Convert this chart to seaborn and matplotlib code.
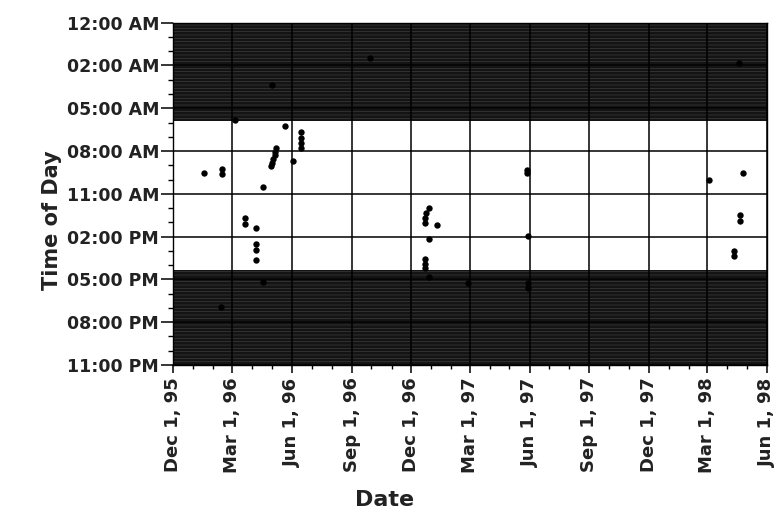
import pandas as pd
import matplotlib
matplotlib.use("Agg")
import matplotlib.pyplot as plt
import matplotlib.dates as mdates
from matplotlib.ticker import FixedLocator, FuncFormatter, MultipleLocator
import seaborn as sns

obs_dates = [
    "1996-01-18",
    "1996-02-15", "1996-02-15",
    "1996-02-12",
    "1996-03-05",
    "1996-03-21", "1996-03-21",
    "1996-04-06", "1996-04-06", "1996-04-06", "1996-04-06",
    "1996-04-18", "1996-04-18",
    "1996-05-01",
    "1996-05-07", "1996-05-06", "1996-05-05", "1996-05-03", "1996-05-01", "1996-04-30",
    "1996-05-21",
    "1996-06-03",
    "1996-06-14", "1996-06-14", "1996-06-14", "1996-06-14",
    "1996-09-29",
    "1996-12-28", "1996-12-28", "1996-12-28",
    "1996-12-24",
    "1996-12-23", "1996-12-23", "1996-12-23", "1996-12-23", "1996-12-23",
    "1997-01-10",
    "1997-02-26",
    "1997-05-28", "1997-05-28",
    "1997-05-29", "1997-05-29", "1997-05-29",
    "1998-03-04",
    "1998-04-25",
    "1998-04-21", "1998-04-21",
    "1998-04-12", "1998-04-12",
    "1998-04-19",
]
obs_hours = [
    10.08,
    9.8, 10.15,
    19.08,
    6.55,
    13.15, 13.55,
    13.82, 14.85, 15.25, 15.95,
    11.06, 17.4,
    4.19,
    8.39, 8.67, 8.89, 9.18, 9.45, 9.61,
    6.94,
    9.29,
    7.32, 7.75, 8.1, 8.45,
    2.39,
    12.47, 14.56, 17.07,
    12.81,
    13.15, 13.48, 15.9, 16.2, 16.5,
    13.6,
    17.47,
    9.9, 10.1,
    14.33, 17.5, 17.8,
    10.57,
    10.12,
    12.95, 13.3,
    15.35, 15.7,
    2.73,
]

# shaded night periods (hours)
night_end = 6.6
night_start = 16.6
day_end = 23.0

df = pd.DataFrame({"date": pd.to_datetime(obs_dates), "hour": obs_hours})

sns.set_theme(style="ticks")
plt.rcParams["font.family"] = ["DejaVu Sans"]
plt.rcParams["hatch.linewidth"] = 0.5

fig = plt.figure(figsize=(7.79, 5.15), dpi=100)
ax = fig.add_axes([0.2221, 0.2913, 0.7625, 0.6647])

# dark night bands with a scan-like streaky texture
for lo, hi in [(0, night_end), (night_start, day_end)]:
    ax.axhspan(lo, hi, facecolor="#141414", edgecolor="#3c3c3c",
               hatch="-----", linewidth=0, zorder=1)

sns.scatterplot(data=df, x="date", y="hour", color="black", s=21,
                edgecolor="black", linewidth=0, ax=ax, zorder=3)

ax.set_xlim(pd.Timestamp("1995-12-01"), pd.Timestamp("1998-06-01"))
ax.set_ylim(day_end, 0)

ax.xaxis.set_major_locator(mdates.MonthLocator(bymonth=[3, 6, 9, 12], bymonthday=1))
ax.xaxis.set_minor_locator(mdates.MonthLocator())
ax.xaxis.set_major_formatter(mdates.DateFormatter("%b 1, %y"))

step = day_end / 8
ax.yaxis.set_major_locator(FixedLocator([step * i for i in range(9)]))
ax.yaxis.set_minor_locator(MultipleLocator(step / 3))


def fmt_hour(v, pos):
    h = int(round(v, 6)) % 24
    suffix = "AM" if h < 12 else "PM"
    h12 = h % 12
    if h12 == 0:
        h12 = 12
    return f"{h12:02d}:00 {suffix}"


ax.yaxis.set_major_formatter(FuncFormatter(fmt_hour))

ax.grid(True, which="major", color="black", linewidth=1.1)
ax.set_axisbelow("line")

for sp in ax.spines.values():
    sp.set_color("black")
    sp.set_linewidth(1.0)

ax.tick_params(axis="y", which="major", length=9, width=1.1, pad=1,
               labelsize=12.5, color="black", labelcolor="#222222")
ax.tick_params(axis="y", which="minor", length=3.5, width=1.0, color="black")
ax.tick_params(axis="x", which="major", length=6, width=1.1, pad=3,
               labelsize=13, color="black", labelcolor="#222222", labelrotation=90)
ax.tick_params(axis="x", which="minor", length=3, width=1.0, color="black")
for lab in ax.get_xticklabels() + ax.get_yticklabels():
    lab.set_fontweight("bold")

ax.set_xlabel("Date", fontsize=16, fontweight="bold", color="#222222", va="center")
ax.xaxis.set_label_coords((385 - 173) / 594, (365 - 500) / 342.3)
ax.set_ylabel("Time of Day", fontsize=15, fontweight="bold", color="#222222", va="center")
ax.yaxis.set_label_coords((52 - 173) / 594, (365 - 220) / 342.3)

fig.savefig("out.png", dpi=100)
